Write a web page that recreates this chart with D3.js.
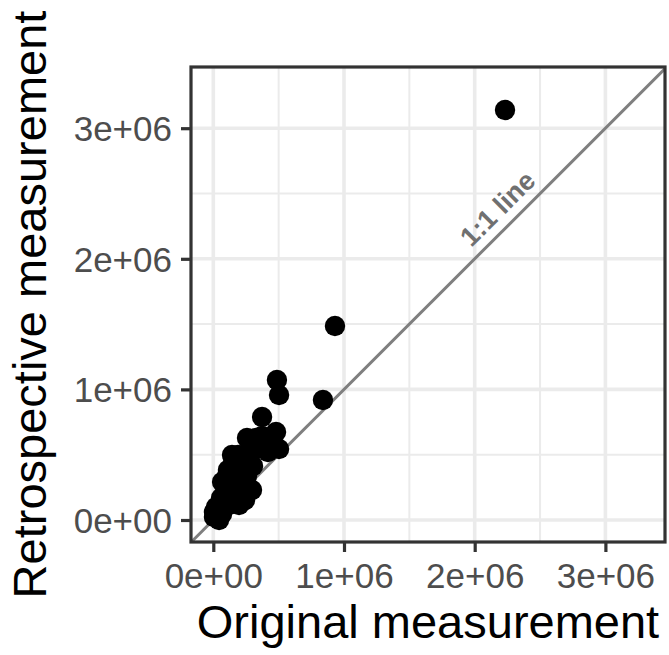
<!DOCTYPE html>
<html>
<head>
<meta charset="UTF-8">
<title></title>
<script src="https://d3js.org/d3.v7.min.js"></script>
<style>
  body { margin: 0; background: #fff; }
  text { font-family: "Liberation Sans", Arial, sans-serif; }
</style>
</head>
<body>
<div id="my_dataviz"></div>
<script>
var original = [2232000, 931000, 839000, 487000, 503000, 373000, 258000, 373000, 480000, 503000,
  403000, 296000, 212000, 304000, 174000, 258000, 128000, 220000, 296000, 97000,
  166000, 59000, 120000, 21000, 67000, 5000, 44000, 189000, 151000, 434000,
  319000, 243000, 105000, 143000, 143000, 204000, 174000, 250000, 128000, 197000,
  5000, 112000, 327000, 418000, 449000, 67000];
var retrospective = [3139000, 1485000, 919000, 1072000, 957000, 789000, 628000, 643000, 674000, 544000,
  551000, 521000, 459000, 413000, 383000, 337000, 306000, 260000, 230000, 230000,
  184000, 168000, 115000, 100000, 46000, 23000, 0, 498000, 436000, 613000,
  582000, 153000, 337000, 413000, 498000, 383000, 291000, 444000, 214000, 115000,
  61000, 383000, 628000, 521000, 590000, 291000];
var majorTicks = [0, 1e6, 2e6, 3e6];
var minorTicks = [0.5e6, 1.5e6, 2.5e6];
var tickLabels = ["0e+00", "1e+06", "2e+06", "3e+06"];
var lineLabel = "1:1 line";

var data = original.map(function(d, i) { return {x: d, y: retrospective[i]}; });

var W = 669, H = 655;
var margin = {top: 67, right: 4, bottom: 113, left: 191};
var width = W - margin.left - margin.right,
    height = H - margin.top - margin.bottom;

var svg = d3.select("#my_dataviz")
  .append("svg")
  .attr("width", W)
  .attr("height", H);

var g = svg.append("g")
  .attr("transform", "translate(" + margin.left + "," + margin.top + ")");

var x = d3.scaleLinear().domain([-170600, 3456000]).range([0, width]);
var y = d3.scaleLinear().domain([-168500, 3468600]).range([height, 0]);

svg.append("defs").append("clipPath").attr("id", "clip")
  .append("rect").attr("width", width).attr("height", height);

// grid
g.selectAll(".minx").data(minorTicks).enter().append("line")
  .attr("x1", function(d) { return x(d); }).attr("x2", function(d) { return x(d); })
  .attr("y1", 0).attr("y2", height)
  .attr("stroke", "#ebebeb").attr("stroke-width", 2);
g.selectAll(".miny").data(minorTicks).enter().append("line")
  .attr("y1", function(d) { return y(d); }).attr("y2", function(d) { return y(d); })
  .attr("x1", 0).attr("x2", width)
  .attr("stroke", "#ebebeb").attr("stroke-width", 2);
g.selectAll(".majx").data(majorTicks).enter().append("line")
  .attr("x1", function(d) { return x(d); }).attr("x2", function(d) { return x(d); })
  .attr("y1", 0).attr("y2", height)
  .attr("stroke", "#ebebeb").attr("stroke-width", 3.6);
g.selectAll(".majy").data(majorTicks).enter().append("line")
  .attr("y1", function(d) { return y(d); }).attr("y2", function(d) { return y(d); })
  .attr("x1", 0).attr("x2", width)
  .attr("stroke", "#ebebeb").attr("stroke-width", 3.6);

// 1:1 line
var lim = [-200000, 3500000];
g.append("path")
  .datum(lim)
  .attr("clip-path", "url(#clip)")
  .attr("fill", "none")
  .attr("stroke", "#7f7f7f")
  .attr("stroke-width", 3)
  .attr("d", d3.line().x(function(d) { return x(d); }).y(function(d) { return y(d); }));

// label along the line
var lx = x(2280000), ly = y(2280000);
g.append("text")
  .attr("transform", "translate(" + lx + "," + ly + ") rotate(-45) translate(0,-10)")
  .attr("text-anchor", "middle")
  .attr("font-weight", "bold")
  .attr("font-size", 27)
  .attr("fill", "#707070")
  .text(lineLabel);

// points
g.append("g").attr("clip-path", "url(#clip)")
  .selectAll("circle").data(data).enter().append("circle")
  .attr("cx", function(d) { return x(d.x); })
  .attr("cy", function(d) { return y(d.y); })
  .attr("r", 10.2)
  .attr("fill", "#000");

// panel border
g.append("rect")
  .attr("width", width).attr("height", height)
  .attr("fill", "none").attr("stroke", "#333333").attr("stroke-width", 3.2);

// axes
var xAxis = g.append("g")
  .attr("transform", "translate(0," + height + ")")
  .call(d3.axisBottom(x).tickValues(majorTicks).tickSize(10).tickPadding(11)
    .tickFormat(function(d, i) { return tickLabels[i]; }));
var yAxis = g.append("g")
  .call(d3.axisLeft(y).tickValues(majorTicks).tickSize(10).tickPadding(9)
    .tickFormat(function(d, i) { return tickLabels[i]; }));

[xAxis, yAxis].forEach(function(a) {
  a.select(".domain").remove();
  a.selectAll(".tick line").attr("stroke", "#333333").attr("stroke-width", 3.2);
  a.selectAll(".tick text")
    .attr("fill", "#4d4d4d")
    .attr("font-size", 35)
    .attr("font-family", "'Liberation Sans', Arial, sans-serif");
});
xAxis.selectAll(".tick text").attr("dy", "0.71em");
yAxis.selectAll(".tick text").attr("dy", "0.35em");

// axis titles
svg.append("text")
  .attr("x", margin.left + width / 2)
  .attr("y", 638)
  .attr("text-anchor", "middle")
  .attr("font-size", 47)
  .attr("fill", "#000")
  .text("Original measurement");

svg.append("text")
  .attr("transform", "translate(46," + (margin.top + height / 2) + ") rotate(-90)")
  .attr("text-anchor", "middle")
  .attr("font-size", 47)
  .attr("fill", "#000")
  .text("Retrospective measurement");
</script>
</body>
</html>
